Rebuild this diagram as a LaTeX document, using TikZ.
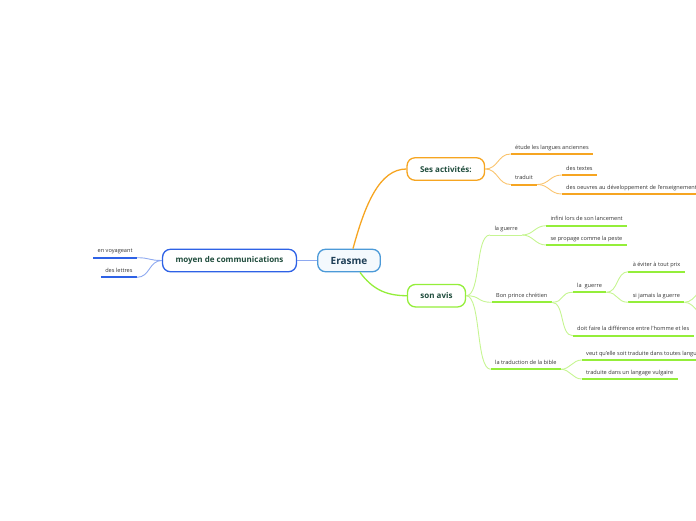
\documentclass[tikz,border=0pt]{standalone}
\usepackage{fontspec}
\setmainfont{Open Sans}
\usepackage{xcolor}
\definecolor{orangec}{HTML}{F6A521}
\definecolor{orangel}{HTML}{FAC46E}
\definecolor{greenc}{HTML}{94EE3A}
\definecolor{greenl}{HTML}{C6F592}
\definecolor{bluec}{HTML}{2E62E6}
\definecolor{bluel}{HTML}{8EA9F0}
\definecolor{rootc}{HTML}{4C9AD8}
\definecolor{titlec}{HTML}{1F4C3C}
\definecolor{leafc}{HTML}{333333}

\begin{document}
\begin{tikzpicture}[x=1pt, y=-1pt]
  \tikzset{
    topic/.style={draw, line width=1.3pt, rounded corners=8pt, fill=white, inner xsep=13pt, minimum height=22.5pt, font=\fontsize{8}{9}\selectfont\bfseries, text=titlec},
    leaf/.style={inner xsep=4.5pt, inner ysep=3.5pt, text depth=1.5pt, text height=4.5pt, outer sep=0pt, font=\fontsize{5.6}{6}\selectfont, text=leafc, anchor=south west},
    uline/.style={line width=2pt},
    link/.style={line width=0.9pt}
  }
  \useasboundingbox (0,0) rectangle (696,520);
  \clip (0,0) rectangle (696,520);

  % central topic and main branches
  \node[topic, draw=rootc, fill=rootc!6, text=rootc!40!black, font=\fontsize{10}{12}\selectfont\bfseries] (erasme) at (349,260.5) {Erasme};
  \node[topic, draw=bluec] (moyen) at (229.5,260.5) {moyen de communications};
  \node[topic, draw=orangec] (act) at (445.8,169) {Ses activités:};
  \node[topic, draw=greenc] (avis) at (436.5,295.7) {son avis};

  \draw[line width=1.3pt, bluel] (erasme.west) -- (moyen.east);
  \draw[line width=1.3pt, orangec] ([xshift=4pt]erasme.north) .. controls +(12,-44) and +(-27,0) .. (act.west);
  \draw[line width=1.3pt, greenc] ([xshift=11pt]erasme.south) .. controls +(12,16) and +(-22,0) .. (avis.west);

  % moyen de communications
  \node[leaf, anchor=south east] (voyage) at (137,257.7) {en voyageant};
  \node[leaf, anchor=south east] (lettres) at (137,277.3) {des lettres};
  \foreach \n in {voyage,lettres} {
    \draw[uline, bluec] (\n.south west) -- (\n.south east);
    \draw[link, bluel] (moyen.west) .. controls +(-13,0) and +(13,0) .. (\n.south east);
  }

  % Ses activités
  \node[leaf] (etude) at (510.7,154) {étude les langues anciennes};
  \node[leaf] (traduit) at (510.7,184.5) {traduit};
  \node[leaf] (textes) at (561.7,175) {des textes};
  \node[leaf] (oeuvres) at (561.7,194) {des oeuvres au développement de l'enseignement};
  \foreach \n in {etude,traduit,textes,oeuvres} { \draw[uline, orangec] (\n.south west) -- (\n.south east); }
  \foreach \n in {etude,traduit} { \draw[link, orangel] (act.east) .. controls +(13,0) and +(-13,0) .. (\n.south west); }
  \foreach \n in {textes,oeuvres} { \draw[link, orangel] (traduit.south east) .. controls +(12,0) and +(-12,0) .. (\n.south west); }

  % son avis
  \node[leaf] (guerreA) at (490,235) {la guerre};
  \node[leaf] (infini) at (546,225.7) {infini lors de son lancement};
  \node[leaf] (peste) at (546,245) {se propage comme la peste};
  \node[leaf] (prince) at (491.7,302.3) {Bon prince chrétien};
  \node[leaf] (guerreB) at (572.7,292.3) {la\ \ guerre};
  \node[leaf] (eviter) at (628.3,271.7) {à éviter à tout prix};
  \node[leaf] (jamais) at (628.3,302.3) {si jamais la guerre};
  \node[leaf] (diff) at (572.7,335.7) {doit faire la différence entre l'homme et les};
  \node[leaf] (bible) at (490.7,369.3) {la traduction de la bible};
  \node[leaf] (veut) at (581.7,360) {veut qu'elle soit traduite dans toutes langues};
  \node[leaf] (vulg) at (581.7,379) {traduite dans un langage vulgaire};
  \coordinate (jamaisA) at (712,283);
  \coordinate (jamaisB) at (712,322);

  \draw[link, greenl] (guerreA.south west) -- (guerreA.south east);
  \foreach \n in {infini,peste,prince,guerreB,eviter,jamais,diff,bible,veut,vulg} { \draw[uline, greenc] (\n.south west) -- (\n.south east); }
  \foreach \n in {guerreA,prince,bible} { \draw[link, greenl] (avis.east) .. controls +(15,0) and +(-15,0) .. (\n.south west); }
  \foreach \n in {infini,peste} { \draw[link, greenl] (guerreA.south east) .. controls +(11,0) and +(-11,0) .. (\n.south west); }
  \foreach \n in {guerreB,diff} { \draw[link, greenl] (prince.south east) .. controls +(13,0) and +(-13,0) .. (\n.south west); }
  \foreach \n in {eviter,jamais} { \draw[link, greenl] (guerreB.south east) .. controls +(12,0) and +(-12,0) .. (\n.south west); }
  \foreach \n in {jamaisA,jamaisB} { \draw[link, greenl] (jamais.south east) .. controls +(12,0) and +(-12,0) .. (\n); }
  \foreach \n in {veut,vulg} { \draw[link, greenl] (bible.south east) .. controls +(9,0) and +(-9,0) .. (\n.south west); }
\end{tikzpicture}
\end{document}
